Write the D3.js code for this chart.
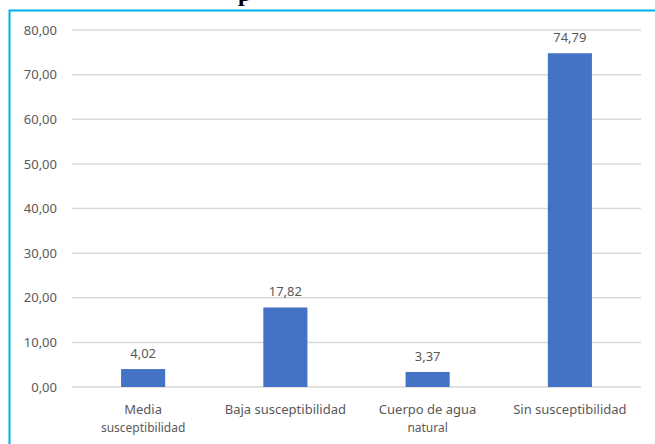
<!DOCTYPE html>
<html>
<head>
<meta charset="utf-8">
<script src="https://cdn.jsdelivr.net/npm/d3@7"></script>
<style>
  body { margin: 0; background: #fff; }
  svg { display: block; }
</style>
</head>
<body>
<svg id="chart" width="655" height="444"></svg>
<script>
const categories = [["Media", "susceptibilidad"], ["Baja susceptibilidad"], ["Cuerpo de agua", "natural"], ["Sin susceptibilidad"]];
const values = [4.02, 17.82, 3.37, 74.79];
const yTicks = [0, 10, 20, 30, 40, 50, 60, 70, 80];

const fmt = v => v.toFixed(2).replace(".", ",");

const svg = d3.select("#chart");
const margin = { top: 30, right: 14, bottom: 57, left: 72 };
const width = 655 - margin.left - margin.right;
const height = 444 - margin.top - margin.bottom;

// cut-off title from the page above
svg.append("text")
    .attr("x", 238)
    .attr("y", 1)
    .attr("font-family", "Liberation Serif, serif")
    .attr("font-weight", "bold")
    .attr("font-size", "24px")
    .attr("fill", "#000")
    .text("p");

// frame
svg.append("path")
    .attr("d", "M9.5,444 V10.5 H655")
    .attr("fill", "none")
    .attr("stroke", "#00B0F0")
    .attr("stroke-width", 2);

const g = svg.append("g")
    .attr("transform", `translate(${margin.left},${margin.top})`);

const x = d3.scaleBand()
    .domain(d3.range(categories.length))
    .range([0, width])
    .paddingInner(0.69)
    .paddingOuter(0.345);

const y = d3.scaleLinear().domain([0, 80]).range([height, 0]);

// grid
g.selectAll(".grid")
    .data(yTicks)
    .join("line")
    .attr("x1", 0)
    .attr("x2", width)
    .attr("y1", d => y(d))
    .attr("y2", d => y(d))
    .attr("stroke", "#d9d9d9")
    .attr("stroke-width", 1.5);

const yAxis = g.append("g")
    .call(d3.axisLeft(y).tickValues(yTicks).tickFormat(fmt).tickSize(0).tickPadding(15));
yAxis.select(".domain").remove();
yAxis.selectAll("text")
    .attr("fill", "#595959")
    .attr("font-family", "Noto Sans, sans-serif")
    .attr("font-size", "13px");

g.selectAll(".bar")
    .data(values)
    .join("rect")
    .attr("x", (d, i) => x(i))
    .attr("y", d => y(d))
    .attr("width", x.bandwidth())
    .attr("height", d => height - y(d))
    .attr("fill", "#4472C4");

g.selectAll(".lbl")
    .data(values)
    .join("text")
    .attr("x", (d, i) => x(i) + x.bandwidth() / 2)
    .attr("y", d => y(d) - 11)
    .attr("text-anchor", "middle")
    .attr("fill", "#595959")
    .attr("font-family", "Noto Sans, sans-serif")
    .attr("font-size", "13px")
    .text(fmt);

const cat = g.selectAll(".cat")
    .data(categories)
    .join("text")
    .attr("text-anchor", "middle")
    .attr("fill", "#595959")
    .attr("font-family", "Noto Sans, sans-serif")
    .attr("font-size", "13px");
cat.selectAll("tspan")
    .data((d, i) => d.map(s => ({ s, i })))
    .join("tspan")
    .attr("x", d => x(d.i) + x.bandwidth() / 2)
    .attr("y", (d, j) => height + 27 + j * 18)
    .attr("font-size", (d, j) => j > 0 ? "12px" : null)
    .text(d => d.s);
</script>
</body>
</html>
